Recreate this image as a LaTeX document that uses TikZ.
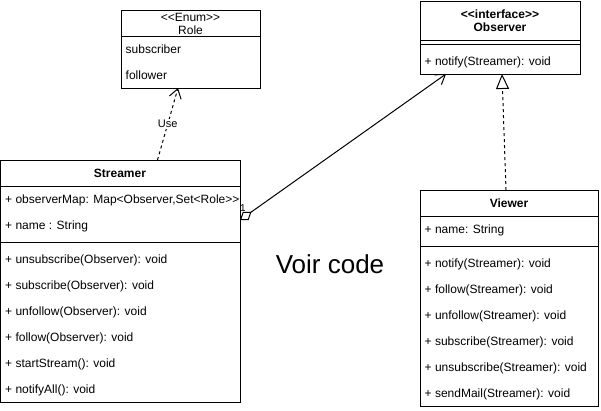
\documentclass[tikz,border=0pt]{standalone}
\usepackage{fontspec}
\setmainfont{Liberation Sans}
\usetikzlibrary{arrows.meta,calc}
\begin{document}
\begin{tikzpicture}[x=1pt,y=-1pt,
  umlbox/.style={draw, line width=1pt, inner sep=0pt, outer sep=0pt, anchor=north west},
  rowtext/.style={anchor=west, inner sep=0pt, text height=8.6pt, text depth=0pt, font=\fontsize{12}{13}\selectfont},
  headtext/.style={anchor=center, inner sep=0pt, text height=8.6pt, text depth=0pt, font=\fontsize{12}{13}\selectfont},
  bheadtext/.style={headtext, font=\fontsize{12}{13}\selectfont\bfseries},
  divider/.style={line width=1pt},
  dashline/.style={line width=1pt, dash pattern=on 3pt off 3pt},
  openhead/.style={-{Straight Barb[length=9pt,width=12pt]}},
]
\useasboundingbox (0,0) rectangle (601,410);

% Role
\node[umlbox, minimum width=139pt, minimum height=78pt] (role) at (121,10) {};
\node[headtext] (roleS) at (190.5,17) {<\kern0pt<Enum>\kern0pt>};
\node[headtext] (roleN) at (190.5,30) {Role};
\draw[divider] (121,36) -- (260,36);
\node[rowtext] (role1) at (125.5,49) {subscriber};
\node[rowtext] (role2) at (125.5,75) {follower};

% Observer
\node[umlbox, minimum width=160pt, minimum height=73pt] (observer) at (420,1) {};
\node[bheadtext] (obsS) at (500,14) {<\kern0pt<interface>\kern0pt>};
\node[bheadtext] (obsN) at (500,27) {Observer};
\draw[divider] (420,40) -- (580,40);
\draw[divider] (420,44) -- (580,44);
\node[rowtext] (obs1) at (424.5,61) {+ notify(Streamer): void};

% Streamer
\node[umlbox, minimum width=239.5pt, minimum height=242pt] (streamer) at (0.5,160) {};
\node[bheadtext] (strN) at (120,173) {Streamer};
\draw[divider] (0.5,186) -- (240,186);
\node[rowtext] (str1) at (5,199) {+ observerMap: Map<Observer,Set<Role>\kern0pt>};
\node[rowtext] (str2) at (5,225) {+ name : String};
\draw[divider] (0.5,242) -- (240,242);
\node[rowtext] (str3) at (5,259) {+ unsubscribe(Observer): void};
\node[rowtext] (str4) at (5,285) {+ subscribe(Observer): void};
\node[rowtext] (str5) at (5,311) {+ unfollow(Observer): void};
\node[rowtext] (str6) at (5,337) {+ follow(Observer): void};
\node[rowtext] (str7) at (5,363) {+ startStream(): void};
\node[rowtext] (str8) at (5,389) {+ notifyAll(): void};

% Viewer
\node[umlbox, minimum width=178pt, minimum height=216pt] (viewer) at (420,190) {};
\node[bheadtext] (viwN) at (509,203) {Viewer};
\draw[divider] (420,216) -- (598,216);
\node[rowtext] (viw1) at (424.5,229) {+ name: String};
\draw[divider] (420,246) -- (598,246);
\node[rowtext] (viw2) at (424.5,263) {+ notify(Streamer): void};
\node[rowtext] (viw3) at (424.5,289) {+ follow(Streamer): void};
\node[rowtext] (viw4) at (424.5,315) {+ unfollow(Streamer): void};
\node[rowtext] (viw5) at (424.5,341) {+ subscribe(Streamer): void};
\node[rowtext] (viw6) at (424.5,367) {+ unsubscribe(Streamer): void};
\node[rowtext] (viw7) at (424.5,393) {+ sendMail(Streamer): void};

% Voir code
\node[anchor=base, inner sep=0pt, font=\fontsize{26}{29}\selectfont] (voir) at (330,273) {Voir code};

% Use dependency
\draw[dashline, openhead] ([xshift=157pt]streamer.north west) -- ([xshift=57pt]role.south west)
  node[midway, fill=white, inner sep=1pt, font=\fontsize{11}{12}\selectfont] (uselbl) {Use};

% Realization
\draw[dashline, -{Triangle[open, length=15pt, width=13pt, fill=white]}]
  ([xshift=86pt]viewer.north west) -- ([xshift=82pt]observer.south west);

% Association
\draw[line width=1pt, {Diamond[open, length=14pt, width=10pt]}-{Straight Barb[length=9pt,width=12pt]}]
  ([yshift=-60pt]streamer.north east) -- ([xshift=26pt]observer.south west);
\node[inner sep=0pt, font=\fontsize{10}{11}\selectfont] (mult) at (243,208) {1};
\end{tikzpicture}
\end{document}
